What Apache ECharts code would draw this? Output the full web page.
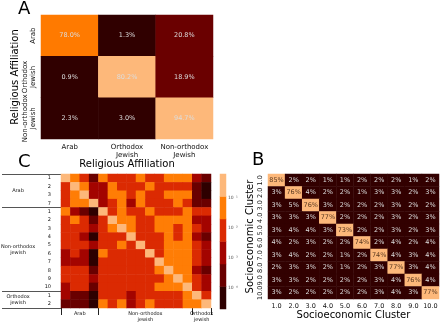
<!DOCTYPE html>
<html>
<head>
<meta charset="utf-8">
<script src="https://cdn.jsdelivr.net/npm/echarts@6.0.0/dist/echarts.min.js"></script>
<style>
  html, body { margin: 0; padding: 0; background: #fff; }
  #main { width: 440px; height: 323px; }
</style>
</head>
<body>
<div id="main"></div>
<script>
// panel A
const relCats = ['Arab', 'Orthodox\nJewish', 'Non-orthodox\nJewish'];
const relShare = [
  [78.0, 1.3, 20.8],
  [0.9, 80.2, 18.9],
  [2.3, 3.0, 94.7]
];

// panel B
const socCats = ['1.0', '2.0', '3.0', '4.0', '5.0', '6.0', '7.0', '8.0', '9.0', '10.0'];
const socShare = [
  [85, 2, 2, 1, 1, 2, 2, 2, 1, 2],
  [3, 76, 4, 2, 2, 1, 3, 3, 2, 3],
  [3, 5, 76, 3, 2, 2, 2, 3, 2, 2],
  [3, 3, 3, 77, 2, 2, 2, 3, 2, 3],
  [3, 4, 4, 3, 73, 2, 2, 3, 2, 3],
  [4, 2, 3, 2, 2, 74, 2, 4, 2, 4],
  [3, 4, 2, 2, 1, 2, 74, 4, 3, 4],
  [2, 3, 3, 2, 1, 2, 3, 77, 3, 4],
  [3, 3, 2, 2, 2, 2, 3, 4, 76, 4],
  [3, 2, 2, 2, 2, 2, 3, 4, 3, 77]
];

// panel C
const subCats = ['1', '2', '3', '7', '1', '2', '3', '4', '5', '6', '7', '8', '9', '10', '1', '2'];
const groupNames = ['Arab', 'Non-orthodox\njewish', 'Orthodox\njewish'];
const groupEdges = [0, 4, 14, 16];
const groupMids = [2, 9, 15];
// colour band of each cell, 0 = darkest ... 5 = lightest
const subBand = [
  [5, 4, 3, 1, 4, 3, 3, 3, 4, 3, 3, 4, 4, 4, 2, 1],
  [3, 5, 4, 2, 2, 4, 3, 3, 3, 4, 3, 3, 3, 3, 1, 0],
  [3, 4, 5, 2, 2, 4, 4, 3, 4, 3, 3, 4, 4, 4, 1, 0],
  [3, 4, 4, 5, 2, 3, 4, 2, 4, 3, 3, 3, 4, 3, 1, 1],
  [4, 2, 1, 0, 5, 3, 4, 3, 3, 4, 3, 3, 3, 4, 3, 3],
  [3, 4, 3, 1, 3, 5, 4, 4, 3, 3, 4, 4, 4, 4, 2, 2],
  [3, 3, 3, 2, 3, 4, 5, 4, 3, 3, 4, 4, 3, 4, 3, 2],
  [3, 3, 2, 0, 3, 3, 3, 5, 3, 3, 3, 4, 3, 4, 2, 1],
  [3, 3, 3, 2, 3, 3, 4, 3, 5, 3, 3, 4, 4, 4, 3, 2],
  [2, 3, 2, 0, 4, 3, 3, 3, 3, 5, 3, 4, 4, 4, 3, 2],
  [2, 2, 2, 0, 3, 3, 3, 3, 3, 3, 5, 4, 4, 4, 3, 2],
  [3, 3, 3, 1, 3, 3, 3, 3, 3, 3, 4, 5, 4, 4, 2, 1],
  [3, 3, 3, 2, 3, 3, 3, 3, 3, 3, 3, 4, 5, 4, 3, 2],
  [2, 3, 3, 1, 3, 3, 3, 3, 3, 3, 4, 4, 4, 5, 3, 2],
  [2, 1, 1, 0, 3, 3, 3, 2, 3, 3, 3, 3, 3, 4, 5, 3],
  [1, 1, 1, 0, 4, 3, 4, 2, 3, 4, 3, 3, 3, 4, 4, 5]
];
const barBands = [0, 1, 2, 3, 4, 5];
const barTicks = [-1, -2, -3, -4];
const barTickLabels = ['10⁻¹', '10⁻²', '10⁻³', '10⁻⁴'];

const bandColors = ['#2e0000', '#690000', '#a30400', '#db2a02', '#ff7d05', '#fdb87a'];
const font = 'DejaVu Sans';

function cells(matrix) {
  const out = [];
  matrix.forEach((row, i) => row.forEach((v, j) => out.push([j, i, v])));
  return out;
}

const hidden = { show: false };
const noLine = { axisLine: hidden, axisTick: hidden, splitLine: hidden };

let myChart = echarts.init(document.getElementById('main'));
myChart.setOption({
  animation: false,
  textStyle: { fontFamily: font },
  graphic: [
    { type: 'text', left: 18, top: 0, style: { text: 'A', font: '18px ' + font, fill: '#000' } },
    { type: 'text', left: 252, top: 151, style: { text: 'B', font: '18px ' + font, fill: '#000' } },
    { type: 'text', left: 18, top: 153, style: { text: 'C', font: '18px ' + font, fill: '#000' } }
  ],
  grid: [
    { left: 41, top: 15, width: 172, height: 124, outerBoundsMode: 'none' },
    { left: 268, top: 174, width: 171, height: 125, outerBoundsMode: 'none' },
    { left: 61, top: 174, width: 150, height: 134, outerBoundsMode: 'none' },
    { left: 220, top: 174, width: 6, height: 135, outerBoundsMode: 'none' }
  ],
  xAxis: [
    {
      gridIndex: 0, type: 'category', data: relCats, ...noLine,
      axisLabel: { interval: 0, fontSize: 7, margin: 4, color: '#111', lineHeight: 8 },
      name: 'Religious Affiliation', nameLocation: 'middle', nameGap: 18,
      nameTextStyle: { fontSize: 10, color: '#000', verticalAlign: 'top' }
    },
    {
      gridIndex: 1, type: 'category', data: socCats, ...noLine,
      axisLabel: { interval: 0, fontSize: 6.5, margin: 4, color: '#111' },
      name: 'Socioeconomic Cluster', nameLocation: 'middle', nameGap: 11,
      nameTextStyle: { fontSize: 10, color: '#000', verticalAlign: 'top' }
    },
    { gridIndex: 2, type: 'category', position: 'top', show: false, data: subCats.map((s, i) => i) },
    {
      gridIndex: 2, type: 'value', position: 'bottom', min: 0, max: 16,
      axisLine: hidden, splitLine: hidden,
      axisTick: { customValues: groupEdges, length: 7, inside: false, lineStyle: { color: '#222', width: 1 } },
      axisLabel: {
        customValues: groupMids, fontSize: 5, margin: 3, color: '#111', lineHeight: 6,
        formatter: v => groupNames[groupMids.indexOf(v)]
      }
    },
    { gridIndex: 3, type: 'category', show: false, data: ['bar'] }
  ],
  yAxis: [
    {
      gridIndex: 0, type: 'category', data: relCats, inverse: true, ...noLine,
      axisLabel: { interval: 0, fontSize: 7, rotate: 90, margin: 4, color: '#111', lineHeight: 8 },
      name: 'Religious Affiliation', nameLocation: 'middle', nameGap: 21, nameRotate: 90,
      nameTextStyle: { fontSize: 10, color: '#000' }
    },
    {
      gridIndex: 1, type: 'category', data: socCats, inverse: true, ...noLine,
      axisLabel: { interval: 0, fontSize: 6.5, rotate: 90, margin: 4, color: '#111' },
      name: 'Socioeconomic Cluster', nameLocation: 'middle', nameGap: 13, nameRotate: 90,
      nameTextStyle: { fontSize: 10, color: '#000' }
    },
    {
      gridIndex: 2, type: 'category', data: subCats, inverse: true, position: 'left',
      axisLine: hidden, splitLine: hidden,
      axisTick: { interval: 0, length: 29, lineStyle: { color: '#555', width: 1 } },
      axisLabel: { interval: 0, fontSize: 5, margin: 10, color: '#111' }
    },
    {
      gridIndex: 2, type: 'value', min: 0, max: 16, inverse: true, position: 'left',
      axisLine: hidden, splitLine: hidden,
      axisTick: { customValues: groupEdges, length: 59, lineStyle: { color: '#555', width: 1 } },
      axisLabel: {
        customValues: groupMids, fontSize: 5, margin: 43, align: 'center', color: '#111', lineHeight: 6,
        formatter: v => groupNames[groupMids.indexOf(v)]
      }
    },
    { gridIndex: 3, type: 'category', show: false, data: barBands },
    {
      gridIndex: 3, type: 'value', position: 'right', min: -4.72, max: -0.19,
      axisLine: hidden, splitLine: hidden,
      axisTick: { customValues: barTicks, length: 2, lineStyle: { color: '#666' } },
      axisLabel: {
        customValues: barTicks, fontSize: 4.5, margin: 2, color: '#555',
        formatter: v => barTickLabels[barTicks.indexOf(v)]
      }
    }
  ],
  visualMap: [
    {
      type: 'piecewise', show: false, seriesIndex: 0, dimension: 2,
      pieces: [
        { lt: 5, color: '#300000' },
        { gte: 5, lt: 50, color: '#6a0000' },
        { gte: 50, lt: 79, color: '#ff7a00' },
        { gte: 79, color: '#fdb87a' }
      ]
    },
    {
      type: 'piecewise', show: false, seriesIndex: 1, dimension: 2,
      pieces: [
        { lt: 20, color: '#320000' },
        { gte: 20, color: '#fdb87a' }
      ]
    },
    {
      type: 'piecewise', show: false, seriesIndex: [2, 3], dimension: 2,
      pieces: bandColors.map((c, i) => ({ value: i, color: c }))
    }
  ],
  series: [
    {
      type: 'heatmap', xAxisIndex: 0, yAxisIndex: 0, data: cells(relShare),
      label: {
        show: true, fontSize: 6.5, color: '#dcdcdc',
        formatter: p => p.value[2].toFixed(1) + '%'
      }
    },
    {
      type: 'heatmap', xAxisIndex: 1, yAxisIndex: 1, data: cells(socShare),
      label: {
        show: true, fontSize: 6.5, color: '#dcdcdc',
        formatter: p => p.value[2] >= 20 ? '{d|' + p.value[2] + '%}' : p.value[2] + '%',
        rich: { d: { fontSize: 6.5, color: '#5c3a21' } }
      }
    },
    { type: 'heatmap', xAxisIndex: 2, yAxisIndex: 2, data: cells(subBand) },
    { type: 'heatmap', xAxisIndex: 4, yAxisIndex: 4, data: barBands.map(b => [0, b, b]) }
  ]
});
</script>
</body>
</html>
